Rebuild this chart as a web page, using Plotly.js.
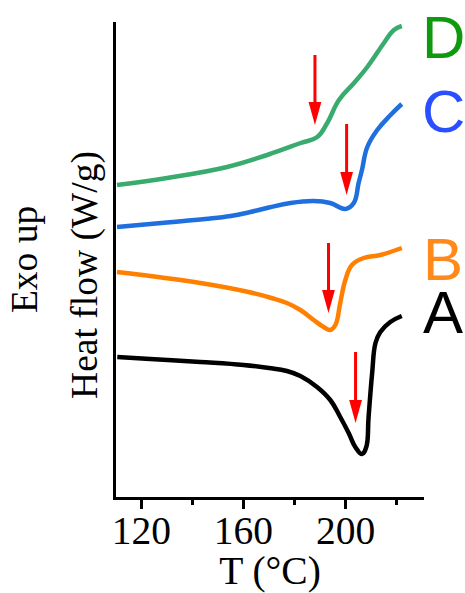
<!DOCTYPE html>
<html>
<head>
<meta charset="utf-8">
<script src="https://cdn.plot.ly/plotly-3.0.1.min.js"></script>
<style>
  html, body { margin: 0; padding: 0; background: #fff; }
  #chart { width: 465px; height: 593px; }
</style>
</head>
<body>
<div id="chart"></div>
<script>
// DSC heating scans, stacked with vertical offsets (arbitrary heat-flow units)
const tempA = [110.6, 123.5, 143.1, 160.0, 170.0, 177.0, 182.3, 188.8, 194.0, 197.9, 201.2, 203.8, 206.4, 208.1, 209.0, 210.4, 211.7, 213.6, 217.5, 222.0];
const flowA = [1.40, 1.38, 1.35, 1.32, 1.29, 1.26, 1.21, 1.10, 0.97, 0.80, 0.64, 0.50, 0.43, 0.50, 0.80, 1.24, 1.54, 1.65, 1.75, 1.81];

const tempB = [110.5, 143.1, 162.0, 171.0, 177.0, 182.3, 187.5, 191.4, 194.0, 196.0, 197.9, 199.9, 202.5, 207.1, 213.6, 222.0];
const flowB = [2.25, 2.14, 2.05, 1.99, 1.94, 1.87, 1.77, 1.70, 1.67, 1.72, 1.94, 2.17, 2.32, 2.39, 2.42, 2.49];

const tempC = [110.5, 130.0, 145.0, 155.0, 162.7, 170.0, 178.4, 187.5, 194.0, 199.9, 203.2, 205.1, 206.4, 208.5, 212.4, 217.6, 222.0];
const flowC = [2.70, 2.745, 2.78, 2.81, 2.85, 2.895, 2.94, 2.96, 2.94, 2.88, 2.94, 3.14, 3.27, 3.50, 3.67, 3.82, 3.93];

const tempD = [110.5, 130.1, 153.6, 169.3, 182.4, 188.9, 192.8, 197.4, 203.3, 208.5, 215.0, 218.9, 222.0];
const flowD = [3.12, 3.19, 3.30, 3.42, 3.54, 3.60, 3.74, 3.97, 4.14, 4.30, 4.54, 4.67, 4.71];

// Transition markers: temperature, arrow tip and arrow tail
const arrowTemp = [188.0, 200.4, 193.3, 203.9];
const arrowTip  = [3.72, 3.02, 1.84, 0.74];
const arrowTail = [4.42, 3.73, 2.54, 1.45];

const sampleNames = ['A', 'B', 'C', 'D'];
const lineColors  = ['#000000', '#ff8000', '#1f6fde', '#3aab6e'];
const labelColors = ['#000000', '#ff8a1a', '#2a4fff', '#0e990e'];

const temps = [tempA, tempB, tempC, tempD];
const flows = [flowA, flowB, flowC, flowD];

const traces = sampleNames.map((name, i) => ({
  x: temps[i], y: flows[i], name: name,
  type: 'scatter', mode: 'lines',
  line: { color: lineColors[i], width: 4.5, shape: 'spline', smoothing: 1.2 },
  hoverinfo: 'x+name'
}));

// Red arrows: shaft plus an elongated triangular head
const headLen = 0.23;   // y units
const headHalf = 2.5;   // x units
const shapes = [];
arrowTemp.forEach((t, i) => {
  const tip = arrowTip[i], tail = arrowTail[i];
  shapes.push({ type: 'line', xref: 'x', yref: 'y', x0: t, x1: t, y0: tail, y1: tip + headLen * 0.9,
                line: { color: '#ff0000', width: 3 } });
  shapes.push({ type: 'path', xref: 'x', yref: 'y',
                path: `M ${t - headHalf} ${tip + headLen} L ${t + headHalf} ${tip + headLen} L ${t} ${tip} Z`,
                fillcolor: '#ff0000', line: { color: '#ff0000', width: 0 } });
});

// Sample letters at the right end of each curve (paper coords)
const labelY = [0.389, 0.499, 0.812, 0.968];
const annotations = sampleNames.map((name, i) => ({
  text: name, xref: 'paper', yref: 'paper', x: 1.062, y: labelY[i],
  xanchor: 'center', yanchor: 'middle', showarrow: false,
  font: { family: 'Liberation Sans, Arial, sans-serif', size: 60, color: labelColors[i] }
}));

annotations.push({
  text: 'Exo up', xref: 'paper', yref: 'paper', x: -0.295, y: 0.499,
  xanchor: 'center', yanchor: 'middle', showarrow: false, textangle: -90,
  font: { family: 'Liberation Serif, Times New Roman, serif', size: 37.5, color: '#000' }
});
annotations.push({
  text: 'Heat flow (W/g)', xref: 'paper', yref: 'paper', x: -0.1, y: 0.468,
  xanchor: 'center', yanchor: 'middle', showarrow: false, textangle: -90,
  font: { family: 'Liberation Serif, Times New Roman, serif', size: 37.5, color: '#000' }
});

const axisFont = { family: 'Liberation Serif, Times New Roman, serif', size: 39.5, color: '#000' };

const layout = {
  width: 465, height: 593,
  margin: { l: 116, r: 41, t: 22, b: 96 },
  paper_bgcolor: '#fff', plot_bgcolor: '#fff',
  showlegend: false,
  font: axisFont,
  xaxis: {
    range: [110.1, 230.7],
    tick0: 120, dtick: 40,
    ticks: 'outside', ticklen: 9, tickwidth: 2.5, tickcolor: '#000',
    ticklabelstandoff: -12,
    minor: { dtick: 20, tick0: 120, ticks: 'outside', ticklen: 5, tickwidth: 2.5, tickcolor: '#000' },
    showline: true, linecolor: '#000', linewidth: 3,
    showgrid: false, zeroline: false,
    tickfont: axisFont,
    title: { text: 'T (°C)', standoff: 14, font: axisFont }
  },
  yaxis: {
    range: [0, 4.75],
    showticklabels: false, ticks: '',
    showline: true, linecolor: '#000', linewidth: 3,
    showgrid: false, zeroline: false
  },
  shapes: shapes,
  annotations: annotations
};

Plotly.newPlot('chart', traces, layout, { displayModeBar: false, staticPlot: true });
</script>
</body>
</html>
